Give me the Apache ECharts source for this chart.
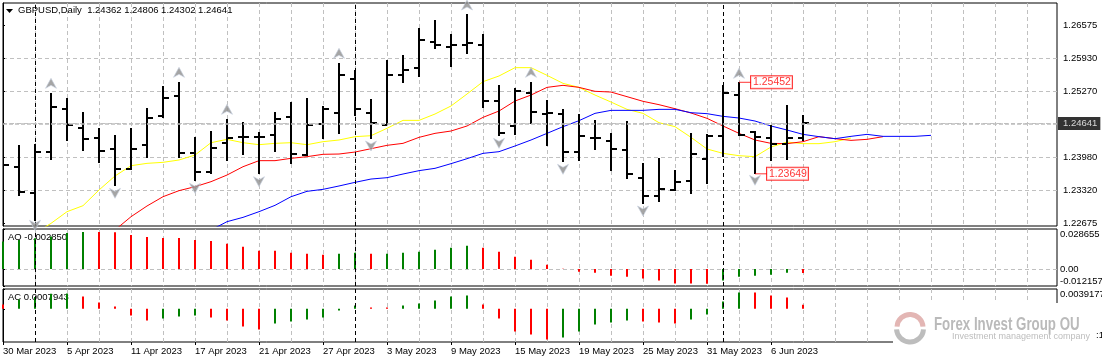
<!DOCTYPE html>
<html><head><meta charset="utf-8">
<style>html,body{margin:0;padding:0;background:#fff}#c{width:1102px;height:362px}</style>
<script src="https://cdn.jsdelivr.net/npm/echarts@6/dist/echarts.min.js"></script>
</head><body><div id="c"></div>
<script>
const dates=["30 Mar 2023","31 Mar 2023","3 Apr 2023","4 Apr 2023","5 Apr 2023","6 Apr 2023","7 Apr 2023","10 Apr 2023","11 Apr 2023","12 Apr 2023","13 Apr 2023","14 Apr 2023","17 Apr 2023","18 Apr 2023","19 Apr 2023","20 Apr 2023","21 Apr 2023","24 Apr 2023","25 Apr 2023","26 Apr 2023","27 Apr 2023","28 Apr 2023","1 May 2023","2 May 2023","3 May 2023","4 May 2023","5 May 2023","8 May 2023","9 May 2023","10 May 2023","11 May 2023","12 May 2023","15 May 2023","16 May 2023","17 May 2023","18 May 2023","19 May 2023","22 May 2023","23 May 2023","24 May 2023","25 May 2023","26 May 2023","29 May 2023","30 May 2023","31 May 2023","1 Jun 2023","2 Jun 2023","5 Jun 2023","6 Jun 2023","7 Jun 2023","8 Jun 2023"];
const opens=[1.23789,1.23789,1.23277,1.24078,1.24932,1.24558,1.24361,1.24144,1.23744,1.24223,1.24788,1.25188,1.24065,1.23684,1.24262,1.24381,1.24381,1.24420,1.24775,1.24019,1.24637,1.24853,1.25523,1.24853,1.24617,1.25602,1.25727,1.26252,1.26154,1.26193,1.26193,1.25090,1.24597,1.25247,1.24834,1.24834,1.24085,1.24361,1.24302,1.24124,1.23573,1.23218,1.23336,1.23514,1.23947,1.24400,1.25208,1.24479,1.24361,1.24243,1.24362];
const highs=[1.23921,1.24216,1.24236,1.25241,1.25142,1.24866,1.24551,1.24413,1.24551,1.24945,1.25379,1.25458,1.24374,1.24492,1.24729,1.24669,1.24472,1.24866,1.25063,1.25142,1.24985,1.25832,1.25700,1.25123,1.25891,1.25989,1.26521,1.26679,1.26403,1.26797,1.26403,1.25398,1.25339,1.25458,1.25103,1.24926,1.24827,1.24709,1.24453,1.24689,1.23862,1.23967,1.23724,1.24453,1.24433,1.25398,1.25452,1.24492,1.24610,1.25004,1.24806];
const lows=[1.22923,1.23218,1.22719,1.23921,1.24295,1.24098,1.23862,1.23409,1.23724,1.23960,1.24748,1.23967,1.23507,1.23645,1.23901,1.24019,1.23645,1.24078,1.23842,1.24000,1.24335,1.24433,1.24788,1.24335,1.24610,1.25438,1.25556,1.26108,1.25753,1.26009,1.24945,1.24394,1.24413,1.24630,1.24197,1.23881,1.23901,1.24118,1.23704,1.23546,1.23054,1.23093,1.23310,1.23251,1.23448,1.23987,1.24394,1.23649,1.23901,1.23921,1.24302];
const closes=[1.23822,1.23297,1.24078,1.24972,1.24617,1.24341,1.24098,1.23744,1.24144,1.24755,1.25149,1.24065,1.23691,1.24164,1.24361,1.24381,1.24381,1.24735,1.24039,1.24617,1.24932,1.25602,1.24932,1.24656,1.25602,1.25700,1.26292,1.26193,1.26193,1.26232,1.25090,1.24453,1.25274,1.24873,1.24840,1.24085,1.24400,1.24361,1.24144,1.23652,1.23218,1.23356,1.23494,1.24046,1.24400,1.25247,1.24420,1.24381,1.24243,1.24361,1.24641];
const lipsStart=2;
const lips=[1.22476,1.22673,1.22903,1.23021,1.23330,1.23606,1.23809,1.23855,1.23875,1.23921,1.24019,1.24262,1.24328,1.24262,1.24223,1.24249,1.24262,1.24223,1.24282,1.24315,1.24381,1.24400,1.24545,1.24702,1.24702,1.24827,1.24985,1.25221,1.25464,1.25576,1.25740,1.25740,1.25589,1.25431,1.25352,1.25201,1.25063,1.24919,1.24840,1.24656,1.24578,1.24367,1.24138,1.24052,1.24006,1.23987,1.24177,1.24275,1.24243,1.24243,1.24282,1.24354];
const teethStart=7;
const teeth=[1.22542,1.22804,1.23015,1.23198,1.23317,1.23395,1.23494,1.23625,1.23789,1.23908,1.23908,1.23954,1.23987,1.24033,1.24039,1.24078,1.24144,1.24210,1.24249,1.24367,1.24446,1.24492,1.24591,1.24761,1.24886,1.25083,1.25201,1.25352,1.25392,1.25352,1.25274,1.25260,1.25169,1.25077,1.25011,1.24932,1.24847,1.24742,1.24591,1.24446,1.24315,1.24249,1.24243,1.24282,1.24381,1.24341,1.24308,1.24328,1.24381];
const jawStart=13;
const jaw=[1.22542,1.22706,1.22791,1.22903,1.23028,1.23198,1.23304,1.23343,1.23409,1.23481,1.23546,1.23573,1.23645,1.23711,1.23757,1.23849,1.23947,1.24052,1.24085,1.24197,1.24315,1.24446,1.24578,1.24696,1.24840,1.24899,1.24899,1.24899,1.24919,1.24919,1.24853,1.24834,1.24781,1.24748,1.24689,1.24591,1.24512,1.24426,1.24381,1.24341,1.24387,1.24426,1.24387,1.24387,1.24387,1.24407];
const fractalUpIdx=[3,11,14,21,29,33,46];
const fractalUpVal=[1.25431,1.25648,1.24919,1.26022,1.26974,1.25648,1.25628];
const fractalDownIdx=[2,7,12,16,23,31,35,40,47];
const fractalDownVal=[1.22634,1.23264,1.23363,1.23494,1.24197,1.24249,1.23737,1.22916,1.23520];
const ao=[0.01967,0.02086,0.02204,0.02323,0.02583,0.02654,0.02650,0.02640,0.02441,0.02299,0.02228,0.02225,0.02086,0.02015,0.01801,0.01588,0.01304,0.01300,0.01161,0.01090,0.01019,0.01090,0.01161,0.01090,0.01095,0.01161,0.01232,0.01375,0.01517,0.01659,0.01517,0.01232,0.00877,0.00664,0.00308,0.00024,-0.00190,-0.00261,-0.00474,-0.00545,-0.00687,-0.00830,-0.01043,-0.01045,-0.01048,-0.00830,-0.00545,-0.00474,-0.00403,-0.00261,-0.00285];
const aoPrev=0.0190;
const ac=[0.00086,0.00185,0.00231,0.00297,0.00304,0.00244,0.00125,0.00046,-0.00132,-0.00231,-0.00191,-0.00152,-0.00132,-0.00172,-0.00231,-0.00350,-0.00409,-0.00290,-0.00251,-0.00211,-0.00172,-0.00033,0.00066,0.00026,0.00025,0.00066,0.00106,0.00165,0.00244,0.00264,0.00086,-0.00191,-0.00449,-0.00508,-0.00607,-0.00568,-0.00449,-0.00310,-0.00271,-0.00231,-0.00251,-0.00271,-0.00290,-0.00211,-0.00112,0.00145,0.00323,0.00322,0.00264,0.00224,0.00079];
const acPrev=0.0012;
const priceTicks=[1.26575,1.2593,1.2527,1.24641,1.2398,1.2332,1.22675];
const priceLabels=[1.26575,1.2593,1.2527,1.2398,1.2332,1.22675];
const aoTicks=[-0.012157,0,0.028655];
const acTick=0.0039177;
const monthStarts=[2,22,45];
const annotIdx=[46,47];
const annotVal=[1.25452,1.23649];
const lastPrice=1.24641;

const FONT='"Liberation Sans",Arial,sans-serif';
const GRIDC='#c0c0c0';
const BARS=65.875;
const chart=echarts.init(document.getElementById('c'),null,{renderer:'canvas'});
const gridLine={show:true,showMinLine:false,showMaxLine:false,lineStyle:{color:GRIDC,type:[4,3],width:1}};
const xBase=g=>({type:'value',gridIndex:g,min:0,max:BARS,interval:2,axisLine:{show:false},axisTick:{show:false},axisLabel:{show:false},splitLine:gridLine});
const pairs=(start,arr)=>arr.map((v,k)=>[start+k,v]);
const sep={silent:true,symbol:'none',animation:false,label:{show:false},lineStyle:{color:'#000',type:[4,3],width:1},data:monthStarts.map(v=>({xAxis:v}))};
const barData=(arr,prev)=>arr.map((v,k)=>{const p=k?arr[k-1]:prev;return {value:[k,v],itemStyle:{color:v>p?'#008000':'#ff0000'}};});
const yRight=(o)=>Object.assign({type:'value',position:'right',scale:true,axisLine:{show:true,lineStyle:{color:'#000'}},axisTick:{show:true,length:2,lineStyle:{color:'#000'}}},o);
const gridBase={left:3,width:1054,show:true,borderColor:'#000',borderWidth:1,backgroundColor:'#fff',outerBoundsMode:'none'};
const heading=(text,left,top)=>({text,left,top,padding:0,z:1,textStyle:{fontFamily:FONT,fontSize:9.5,fontWeight:'normal',color:'#000'}});

function renderOHLC(params,api){
  const i=api.value(0);
  const x=Math.round(api.coord([i,0])[0]);
  const yy=k=>Math.round(api.coord([i,api.value(k)])[1]);
  const st={fill:'#000'};
  const yH=yy(2),yL=yy(3),yO=yy(1),yC=yy(4);
  return {type:'group',children:[
    {type:'rect',shape:{x:x-1,y:yH,width:2,height:yL-yH},style:st},
    {type:'rect',shape:{x:x-5,y:yO-1,width:5,height:2},style:st},
    {type:'rect',shape:{x:x,y:yC-1,width:6,height:2},style:st}
  ]};
}

chart.setOption({
  animation:false,backgroundColor:'#fff',
  textStyle:{fontFamily:FONT},
  title:[
    heading('GBPUSD,Daily  1.24362 1.24806 1.24302 1.24641',18,5),
    heading('AO -0.002850',8,232),
    heading('AC 0.0007943',8,292)
  ],
  grid:[
    Object.assign({top:3,height:223},gridBase),
    Object.assign({top:229,height:57},gridBase),
    Object.assign({top:289,height:53},gridBase)
  ],
  xAxis:[xBase(0),xBase(1),xBase(2),
    {type:'value',gridIndex:2,min:0,max:BARS,position:'bottom',axisLine:{show:false},splitLine:{show:false},
     axisTick:{show:true,length:3,lineStyle:{color:'#000'},customValues:dates.map((d,k)=>k).filter(k=>k%4===0)},
     axisLabel:{show:true,customValues:dates.map((d,k)=>k).filter(k=>k%4===0),formatter:v=>dates[v]||'',align:'left',margin:4,fontSize:9.5,fontFamily:FONT,color:'#000',hideOverlap:false,showMinLabel:true}}
  ],
  yAxis:[
    yRight({gridIndex:0,min:1.22621,max:1.27014,
      axisTick:{show:true,length:2,lineStyle:{color:'#000'},customValues:priceTicks},
      axisLabel:{customValues:priceLabels,formatter:v=>v.toFixed(5),margin:6,fontSize:9.5,fontFamily:FONT,color:'#000'},
      splitLine:gridLine}),
    yRight({gridIndex:1,min:aoTicks[0],max:aoTicks[2],
      axisTick:{show:true,length:2,lineStyle:{color:'#000'},customValues:aoTicks},
      axisLabel:{customValues:aoTicks,formatter:v=>v===0?'0.00':v.toFixed(6),margin:3,fontSize:9.5,fontFamily:FONT,color:'#000',verticalAlignMinLabel:'bottom',verticalAlignMaxLabel:'top'},
      splitLine:gridLine}),
    yRight({gridIndex:2,min:-0.00657,max:acTick,
      axisTick:{show:true,length:2,lineStyle:{color:'#000'},customValues:[0,acTick]},
      axisLabel:{customValues:[acTick],formatter:v=>v.toFixed(7),margin:3,fontSize:9.5,fontFamily:FONT,color:'#000',verticalAlign:'top'},
      splitLine:gridLine})
  ],
  series:[
    {type:'line',name:'Lips',xAxisIndex:0,yAxisIndex:0,data:pairs(lipsStart,lips),showSymbol:false,symbol:'none',z:3,lineStyle:{color:'#ffff00',width:1},markLine:sep},
    {type:'line',name:'Teeth',xAxisIndex:0,yAxisIndex:0,data:pairs(teethStart,teeth),showSymbol:false,symbol:'none',z:3,lineStyle:{color:'#ff0000',width:1},
      markLine:{silent:true,symbol:'none',animation:false,precision:5,label:{show:false},lineStyle:{color:'#bdbdbd',type:[4,2],width:1.6},data:[{yAxis:lastPrice}]}},
    {type:'line',name:'Jaw',xAxisIndex:0,yAxisIndex:0,data:pairs(jawStart,jaw),showSymbol:false,symbol:'none',z:3,lineStyle:{color:'#0000ff',width:1}},
    {type:'custom',name:'GBPUSD',xAxisIndex:0,yAxisIndex:0,clip:true,z:4,renderItem:renderOHLC,encode:{x:0,y:[1,2,3,4]},
      data:dates.map((d,k)=>[k,opens[k],highs[k],lows[k],closes[k]])},
    {type:'scatter',name:'FractalsUp',xAxisIndex:0,yAxisIndex:0,clip:true,z:5,symbol:'path://M5.5,0 L11,10 L5.5,7 L0,10 Z',symbolSize:[11,10],
      itemStyle:{color:'#8f8f8f',borderColor:'#c9d2e2',borderWidth:0.8},data:fractalUpIdx.map((k,n)=>[k,fractalUpVal[n]])},
    {type:'scatter',name:'FractalsDown',xAxisIndex:0,yAxisIndex:0,clip:true,z:5,symbol:'path://M0,0 L5.5,3 L11,0 L5.5,10 Z',symbolSize:[11,10],
      itemStyle:{color:'#8f8f8f',borderColor:'#c9d2e2',borderWidth:0.8},data:fractalDownIdx.map((k,n)=>[k,fractalDownVal[n]])},
    {type:'scatter',name:'Extremes',xAxisIndex:0,yAxisIndex:0,clip:false,z:6,symbol:'rect',symbolSize:[12,1],symbolOffset:[6,0],itemStyle:{color:'#ff0000'},
      label:{show:true,position:'right',distance:0,formatter:p=>p.value[1].toFixed(5),color:'#ff0000',backgroundColor:'#fff',borderColor:'#ff0000',borderWidth:1,padding:[1,1,0,2],fontSize:10.5,fontFamily:FONT},
      data:annotIdx.map((k,n)=>[k,annotVal[n]])},
    {type:'scatter',name:'Last',xAxisIndex:0,yAxisIndex:0,clip:false,z:7,symbolSize:0,
      label:{show:true,position:'right',distance:1,formatter:p=>p.value[1].toFixed(5),color:'#fff',backgroundColor:'#000',padding:[2,3,1,5],fontSize:9.5,fontFamily:FONT},
      data:[[BARS,lastPrice]]},
    {type:'bar',name:'AO',xAxisIndex:1,yAxisIndex:1,barWidth:2,z:3,data:barData(ao,aoPrev),markLine:sep},
    {type:'bar',name:'AC',xAxisIndex:2,yAxisIndex:2,barWidth:2,z:3,data:barData(ac,acPrev),markLine:sep}
  ],
  graphic:[
    {type:'polygon',shape:{points:[[6,9],[13,9],[9.5,13]]},style:{fill:'#000'},z:50},
    {type:'group',z:100,children:[
      {type:'rect',shape:{x:893,y:303,width:203,height:59},style:{fill:'#fff'},z:100},
      {type:'rect',shape:{x:1058,y:303,width:44,height:59},style:{fill:'#fff'},z:100},
      {type:'arc',shape:{cx:910,cy:327.5,r:13,startAngle:Math.PI*1.02,endAngle:Math.PI*1.98},style:{stroke:'#e3b6b4',lineWidth:5,fill:'none'},z:101},
      {type:'arc',shape:{cx:910,cy:328.5,r:13.5,startAngle:Math.PI*0.02,endAngle:Math.PI*0.98},style:{stroke:'#bdbdbd',lineWidth:5,fill:'none'},z:101},
      {type:'text',x:934,y:315,scaleX:0.7,style:{text:'Forex Invest Group OU',font:'bold 19px "Liberation Sans",sans-serif',fill:'#bababa'},z:102},
      {type:'text',x:952,y:332,style:{text:'Investment management company',font:'9px "Liberation Sans",sans-serif',fill:'#bdbdbd'},z:102},
      {type:'text',x:1096,y:330,style:{text:':1',font:'9.5px "Liberation Sans",sans-serif',fill:'#000'},z:102}
    ]}
  ]
});
</script></body></html>
